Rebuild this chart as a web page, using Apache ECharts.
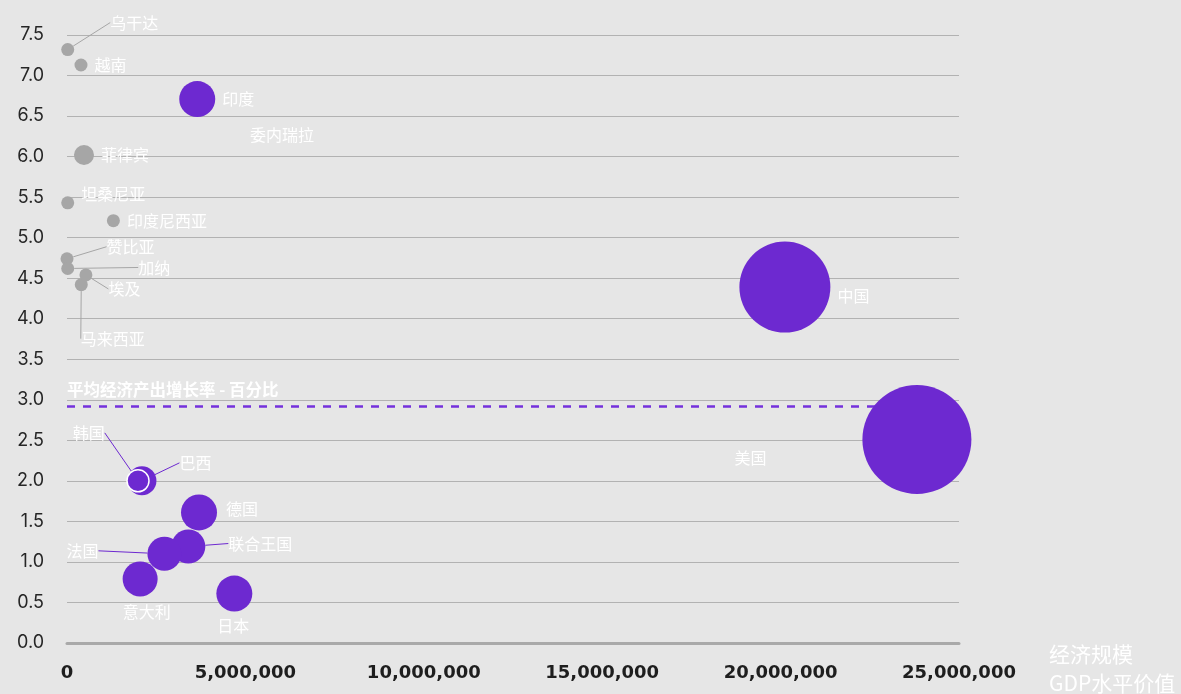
<!DOCTYPE html>
<html>
<head>
<meta charset="utf-8">
<script src="https://cdn.jsdelivr.net/npm/echarts@6/dist/echarts.min.js"></script>
<style>
html,body{margin:0;padding:0;background:#e6e6e6;overflow:hidden;}
#c{width:1181px;height:694px;}
</style>
</head>
<body>
<div id="c"></div>
<script>
// ---- data ----
var countries = ['乌干达','越南','印度','委内瑞拉','菲律宾','坦桑尼亚','印度尼西亚','赞比亚','加纳','马来西亚','埃及','中国','美国','巴西','韩国','德国','联合王国','法国','意大利','日本'];
var gdpValues = [20000,392000,3650000,4930000,476000,20000,1300000,0,20000,400000,530000,20120000,23820000,2100000,1990000,3700000,3400000,2730000,2050000,4690000];
var growthRates = [7.32,7.13,6.71,6.27,6.02,5.43,5.21,4.74,4.62,4.42,4.54,4.39,2.51,2.00,2.00,1.61,1.19,1.10,0.79,0.61];
var bubbleSize = [13,13,36,0,20,13,13,13,13,13,13,91,109,29,22,36,34,34,35,36];
var groups = ['other','other','major','other','other','other','other','other','other','other','other','major','major','major','major','major','major','major','major','major'];
var averageGrowth = 2.92;
var yTicks = {min:0, max:7.5, interval:0.5};
var xTicks = {min:0, max:25000000, interval:5000000};
var avgLabel = '平均经济产出增长率 - 百分比';
var xAxisName = '经济规模\nGDP水平价值';

// ---- styling / layout helpers (not data) ----
var groupColor = {major:'#6d29d0', other:'#a6a6a6'};
var labelShift = {
  '乌干达':[29,-27,true], '坦桑尼亚':[0,-9,false], '赞比亚':[26,-12,true], '加纳':[57,-1,true],
  '埃及':[9,14,true], '马来西亚':[-14,54,true], '中国':[0,9,false], '美国':[-244,18,false],
  '韩国':[-84,-48,true], '巴西':[16,-18,true], '德国':[2,-4,false], '联合王国':[16,-3,true], '法国':[-122,-3,true],
  '意大利':[-42,33,false], '日本':[-42,32,false]
};

var data = countries.map(function(n,i){
  var c = groupColor[groups[i]];
  var s = labelShift[n];
  var item = {
    name:n,
    value:[gdpValues[i], growthRates[i], bubbleSize[i]],
    itemStyle:{color:c, opacity:1},
    labelLine:{show: !!(s && s[2]), lineStyle:{color:c, width:1}}
  };
  if (n === '韩国') { item.itemStyle.borderColor = '#ffffff'; item.itemStyle.borderWidth = 1.5; }
  return item;
});

function fmt(v){ return String(v).replace(/\B(?=(\d{3})+(?!\d))/g, ','); }

var chart = echarts.init(document.getElementById('c'));
chart.setOption({
  backgroundColor:'#e6e6e6',
  animation:false,
  grid:{left:67, right:222, top:35, bottom:51, containLabel:false, outerBoundsMode:'none'},
  xAxis:{
    type:'value', min:xTicks.min, max:xTicks.max, interval:xTicks.interval,
    name:xAxisName, nameLocation:'end', nameGap:90,
    nameTextStyle:{color:'#ffffff', fontSize:21, lineHeight:29, align:'left', verticalAlign:'top', padding:[-3,0,0,0], fontFamily:'Noto Sans CJK SC'},
    axisLine:{show:true, lineStyle:{color:'#a9a9a9', width:3}},
    axisTick:{show:false},
    splitLine:{show:false},
    axisLabel:{color:'#1e1e1e', fontSize:18, fontWeight:'bold', fontFamily:'DejaVu Sans', margin:21, formatter:fmt}
  },
  yAxis:{
    type:'value', min:yTicks.min, max:yTicks.max, interval:yTicks.interval,
    axisLine:{show:false}, axisTick:{show:false},
    splitLine:{show:true, lineStyle:{color:'#b2b2b2', width:1}},
    axisLabel:{color:'#262626', fontSize:18, fontFamily:'Inter', margin:23, formatter:function(v){return v.toFixed(1);}}
  },
  series:[
    {
      type:'scatter', z:1, data:[], symbolSize:0,
      markLine:{
        silent:true, symbol:'none', z:1,
        lineStyle:{color:'#7431dc', type:[8,8], width:2.5, opacity:1},
        label:{show:true, position:'insideStartTop', formatter:avgLabel, color:'#ffffff', fontWeight:'bold', fontSize:16.5, fontFamily:'Noto Sans CJK SC', distance:[0,8]},
        data:[{yAxis:averageGrowth}]
      }
    },
    {
      type:'scatter', z:10,
      data:data,
      symbolSize:function(v){return v[2];},
      itemStyle:{opacity:1},
      label:{show:true, position:'right', distance:7, formatter:'{b}', color:'#ffffff', fontSize:16, fontFamily:'Noto Sans CJK SC'},
      labelLine:{show:true},
      labelLayout:function(p){
        var s = labelShift[countries[p.dataIndex]];
        if (!s) return {};
        return {dx:s[0], dy:s[1]};
      }
    }
  ]
});
</script>
</body>
</html>
